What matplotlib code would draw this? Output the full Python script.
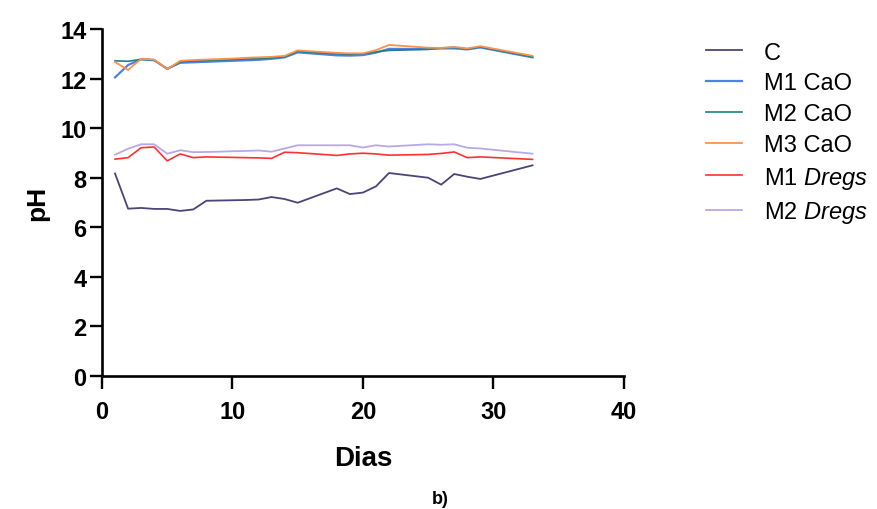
import matplotlib
matplotlib.use("Agg")
import matplotlib.pyplot as plt

plt.rcParams['font.family'] = ['Liberation Sans', 'DejaVu Sans']
plt.rcParams['mathtext.fontset'] = 'custom'
plt.rcParams['mathtext.rm'] = 'Liberation Sans'
plt.rcParams['mathtext.it'] = 'Liberation Sans:italic'

days = [1, 2, 3, 4, 5, 6, 7, 8, 9, 10, 11, 12, 13, 14, 15,
        18, 19, 20, 21, 22, 25, 26, 27, 28, 29, 33]

ph_c = [8.17, 6.75, 6.78, 6.74, 6.74, 6.66, 6.72, 7.07, 7.08, 7.09, 7.10, 7.12, 7.22, 7.14, 6.99,
        7.57, 7.34, 7.40, 7.65, 8.19, 8.00, 7.72, 8.15, 8.04, 7.95, 8.50]
ph_m1_cao = [12.05, 12.55, 12.78, 12.74, 12.40, 12.64, 12.66, 12.68, 12.70, 12.72, 12.74, 12.76, 12.80,
             12.86, 13.06, 12.94, 12.93, 12.95, 13.05, 13.20, 13.20, 13.22, 13.22, 13.18, 13.26, 12.86]
ph_m2_cao = [12.72, 12.70, 12.78, 12.76, 12.38, 12.68, 12.71, 12.73, 12.75, 12.77, 12.79, 12.81, 12.84,
             12.88, 13.10, 13.00, 12.98, 13.00, 13.08, 13.14, 13.18, 13.24, 13.26, 13.20, 13.28, 12.88]
ph_m3_cao = [12.67, 12.35, 12.80, 12.77, 12.38, 12.72, 12.75, 12.77, 12.79, 12.81, 12.84, 12.86, 12.88,
             12.92, 13.14, 13.04, 13.02, 13.02, 13.15, 13.36, 13.25, 13.24, 13.28, 13.22, 13.31, 12.92]
ph_m1_dregs = [8.75, 8.81, 9.21, 9.24, 8.68, 8.96, 8.81, 8.84, 8.83, 8.82, 8.81, 8.80, 8.78, 9.03, 9.01,
               8.90, 8.96, 8.99, 8.96, 8.91, 8.94, 8.98, 9.04, 8.81, 8.84, 8.74]
ph_m2_dregs = [8.93, 9.17, 9.35, 9.35, 8.97, 9.11, 9.03, 9.04, 9.05, 9.07, 9.08, 9.10, 9.05, 9.18, 9.31,
               9.31, 9.31, 9.22, 9.31, 9.26, 9.35, 9.33, 9.35, 9.21, 9.18, 8.97]

fig = plt.figure(figsize=(8.77, 5.10), dpi=100)
ax = fig.add_axes([0.1163, 0.261, 0.595, 0.68])

ax.plot(days, ph_c, color='#4e4379', lw=1.3, label='C')
ax.plot(days, ph_m1_cao, color='#4f80e6', lw=1.6, label='M1 CaO')
ax.plot(days, ph_m2_cao, color='#1f8080', lw=1.2, label='M2 CaO')
ax.plot(days, ph_m3_cao, color='#ff914d', lw=1.3, label='M3 CaO')
ax.plot(days, ph_m1_dregs, color='#ff3030', lw=1.2, label='M1 $\\it{Dregs}$')
ax.plot(days, ph_m2_dregs, color='#b7a8e8', lw=1.3, label='M2 $\\it{Dregs}$')

ax.set_xlim(0, 40)
ax.set_ylim(0, 14)
ax.set_xticks([0, 10, 20, 30, 40])
ax.set_yticks(range(0, 15, 2))
for s in ['top', 'right']:
    ax.spines[s].set_visible(False)
for s in ['left', 'bottom']:
    ax.spines[s].set_linewidth(1.9)
ax.tick_params(width=1.7, length=9, labelsize=17)
ax.tick_params(axis='y', pad=2)
ax.tick_params(axis='x', pad=8)
for lab in ax.get_xticklabels() + ax.get_yticklabels():
    lab.set_fontweight('bold')

ax.set_xlabel('Dias', fontsize=20, fontweight='bold', labelpad=16)
ax.set_ylabel('pH', fontsize=19, fontweight='bold', labelpad=8)

fig.legend(loc='upper left', bbox_to_anchor=(0.781, 0.958), frameon=False, fontsize=17,
           handlelength=1.5, handletextpad=0.95, labelspacing=0.37)

fig.text(0.502, 0.012, 'b)', fontsize=13, fontweight='bold', ha='center')

fig.savefig('out.png', dpi=100)
